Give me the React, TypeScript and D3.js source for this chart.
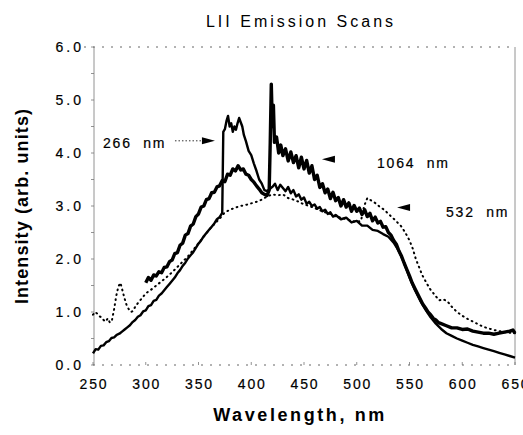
import React from "react";
import * as d3 from "d3";

const W = 523;
const H = 435;

const title = "LII Emission Scans";
const xLabel = "Wavelength, nm";
const yLabel = "Intensity (arb. units)";
const xTicks = [250, 300, 350, 400, 450, 500, 550, 600, 650];
const yTicks = [0, 1, 2, 3, 4, 5, 6];

// 266 nm excitation (solid)
const s266: [number, number][] = [
  [250,0.22],[252.5,0.3],[255,0.29],[257.5,0.36],[260,0.37],[262.5,0.43],[265,0.45],[267.5,0.51],[270,0.52],[272.5,0.57],[275,0.59],[277.5,0.63],[280,0.67],[282.5,0.71],[285,0.75],[287.5,0.81],[290,0.85],[292.5,0.91],[295,0.94],[297.5,1.01],[300,1.03],[302.5,1.11],[305,1.13],[307.5,1.21],[310,1.23],[312.5,1.31],[315,1.35],[317.5,1.41],[320,1.47],[322.5,1.53],[325,1.59],[327.5,1.65],[330,1.73],[332.5,1.79],[335,1.87],[337.5,1.93],[340,2.01],[342.5,2.07],[345,2.13],[347.5,2.21],[350,2.29],[352.5,2.35],[355,2.43],[357.5,2.49],[360,2.55],[362.5,2.61],[365,2.67],[367.5,2.75],[370,2.79],[372.5,2.87],[373.5,4.4],[375,4.45],[376.5,4.6],[378,4.7],[379.5,4.5],[381,4.56],[382.5,4.4],[384,4.5],[385.5,4.44],[387,4.56],[388.5,4.66],[390,4.58],[391.5,4.5],[393,4.34],[395,4.22],[397.5,4.04],[400,3.96],[402.5,3.8],[405,3.66],[407.5,3.5],[410,3.42],[412.5,3.3],[415,3.28],[417.5,3.32],[420,3.36],[422.5,3.42],[425,3.3],[427.5,3.4],[430,3.34],[432.5,3.28],[435,3.36],[437.5,3.24],[440,3.3],[442.5,3.18],[445,3.22],[447.5,3.12],[450,3.16],[452.5,3.04],[455,3.08],[457.5,3.0],[460,3.03],[462.5,2.95],[465,2.98],[467.5,2.9],[470,2.93],[472.5,2.85],[475,2.88],[477.5,2.8],[480,2.83],[485,2.75],[490,2.78],[495,2.69],[500,2.72],[505,2.63],[510,2.63],[515,2.55],[520,2.53],[525,2.47],[530,2.42],[535,2.31],[540,2.15],[545,1.92],[550,1.65],[555,1.42],[560,1.22],[565,1.05],[570,0.9],[575,0.78],[580,0.68],[585,0.6],[590,0.55],[595,0.5],[600,0.46],[605,0.42],[610,0.38],[615,0.35],[620,0.32],[625,0.29],[630,0.26],[635,0.23],[640,0.2],[645,0.17],[650,0.14]
];

// 1064 nm excitation (heavy solid)
const s1064: [number, number][] = [
  [300,1.55],[302.5,1.65],[305,1.6],[307.5,1.7],[310,1.68],[312.5,1.76],[315,1.74],[317.5,1.84],[320,1.85],[322.5,1.95],[325,1.98],[327.5,2.1],[330,2.12],[332.5,2.26],[335,2.3],[337.5,2.45],[340,2.48],[342.5,2.62],[345,2.66],[347.5,2.8],[350,2.85],[352.5,2.98],[355,3.0],[357.5,3.12],[360,3.14],[362.5,3.25],[365,3.26],[367.5,3.36],[370,3.38],[372.5,3.48],[375,3.46],[377.5,3.6],[380,3.58],[382.5,3.7],[385,3.66],[387.5,3.76],[390,3.68],[392.5,3.7],[395,3.6],[397.5,3.58],[400,3.5],[402.5,3.45],[405,3.38],[407.5,3.32],[410,3.25],[412.5,3.22],[415,3.2],[417,3.3],[418,4.2],[419,5.3],[420,4.5],[421,4.9],[422,4.2],[424,4.3],[426,4.0],[428,4.15],[430,3.95],[432.5,4.08],[435,3.85],[437.5,4.02],[440,3.82],[442.5,3.95],[445,3.72],[447.5,3.92],[450,3.7],[452.5,3.86],[455,3.62],[457.5,3.76],[460,3.5],[462.5,3.58],[465,3.35],[467.5,3.42],[470,3.25],[472.5,3.32],[475,3.14],[477.5,3.26],[480,3.1],[482.5,3.16],[485,3.0],[487.5,3.12],[490,2.98],[492.5,3.06],[495,2.9],[497.5,3.01],[500,2.9],[502.5,2.96],[505,2.84],[507.5,2.93],[510,2.8],[512.5,2.86],[515,2.72],[517.5,2.79],[520,2.68],[522.5,2.71],[525,2.6],[527.5,2.61],[530,2.5],[532.5,2.45],[535,2.35],[537.5,2.28],[540,2.15],[542.5,2.05],[545,1.92],[547.5,1.8],[550,1.68],[552.5,1.55],[555,1.45],[557.5,1.35],[560,1.25],[562.5,1.15],[565,1.08],[567.5,1.0],[570,0.95],[572.5,0.88],[575,0.85],[577.5,0.8],[580,0.78],[585,0.74],[590,0.7],[595,0.7],[600,0.67],[605,0.68],[610,0.64],[615,0.62],[620,0.6],[625,0.6],[630,0.58],[635,0.6],[640,0.62],[645,0.64],[648,0.66],[650,0.6]
];

// 532 nm excitation (dotted)
const s532: [number, number][] = [
  [250,0.95],[252,1.0],[254,0.97],[256,0.92],[258,0.9],[260,0.85],[262,0.82],[264,0.88],[266,0.8],[268,0.85],[270,1.05],[272,1.3],[274,1.48],[276,1.55],[278,1.4],[280,1.25],[282,1.12],[284,1.05],[286,1.0],[288,1.02],[290,1.1],[293,1.18],[296,1.25],[300,1.35],[305,1.42],[310,1.5],[315,1.58],[320,1.66],[325,1.75],[330,1.85],[335,1.95],[340,2.05],[345,2.17],[350,2.3],[355,2.42],[360,2.55],[365,2.66],[370,2.76],[375,2.88],[380,2.93],[385,2.97],[390,3.0],[395,3.02],[400,3.05],[405,3.08],[410,3.12],[415,3.18],[420,3.22],[425,3.2],[430,3.22],[435,3.15],[440,3.12],[445,3.08],[450,3.03],[455,3.0],[460,2.96],[465,2.92],[470,2.88],[475,2.85],[480,2.8],[485,2.78],[490,2.75],[495,2.72],[500,2.7],[504,2.72],[507,3.0],[510,3.15],[514,3.1],[518,3.05],[522,2.98],[526,2.93],[530,2.85],[534,2.78],[538,2.7],[542,2.62],[546,2.5],[550,2.35],[553,2.2],[556,2.0],[559,1.85],[562,1.7],[566,1.55],[570,1.42],[574,1.32],[578,1.22],[582,1.24],[586,1.2],[590,1.1],[595,1.0],[600,0.93],[605,0.87],[610,0.82],[615,0.77],[620,0.72],[625,0.69],[630,0.66],[635,0.64],[640,0.62],[645,0.61],[650,0.6]
];

const annLabels = ["266  nm", "1064  nm", "532  nm"];
const annTextAt: [number, number][] = [[259.5, 4.09], [519.2, 3.72], [584.6, 2.79]];
const annTipAt: [number, number][] = [[365.6, 4.23], [467, 3.88], [538.2, 2.97]];
const annDir = [1, -1, -1];
const annTailFrom = [327.7, null, null];

const FONT = "'Liberation Sans', Arial, Helvetica, sans-serif";

export default function App() {
  const x = d3.scaleLinear().domain([250, 650]).range([93, 515]);
  const y = d3.scaleLinear().domain([0, 6]).range([365, 47]);
  const line = d3
    .line<[number, number]>()
    .x((d) => x(d[0]))
    .y((d) => y(d[1]));

  const minorY = d3.range(0, 6.01, 0.5);

  return (
    <svg
      width={W}
      height={H}
      style={{ position: "absolute", left: 0, top: 0, background: "#fff" }}
      fontFamily={FONT}
    >
      <rect x={0} y={0} width={W} height={H} fill="#fff" />
      {/* title */}
      <text x={301} y={27} textAnchor="middle" fontSize={16} letterSpacing={3} fill="#000">
        {title}
      </text>

      {/* frame */}
      <line x1={84} x2={x(650)} y1={y(6)} y2={y(6)} stroke="#666" strokeWidth={1} strokeDasharray="2,7" />
      <line x1={x(250)} x2={x(650)} y1={y(0)} y2={y(0)} stroke="#666" strokeWidth={1} strokeDasharray="2,7" />
      <line x1={x(250) + 1} x2={x(250) + 1} y1={y(6)} y2={y(0)} stroke="#777" strokeWidth={0.8} />
      <line x1={x(650)} x2={x(650)} y1={y(6)} y2={y(0)} stroke="#777" strokeWidth={0.8} />
      {minorY.map((v) => (
        <line key={"my" + v} x1={x(250) + 1} x2={x(250) - 2} y1={y(v)} y2={y(v)} stroke="#777" strokeWidth={0.8} />
      ))}
      {xTicks.map((t) => (
        <line key={"xt" + t} x1={x(t)} x2={x(t)} y1={y(0)} y2={y(0) - 3} stroke="#777" strokeWidth={0.8} />
      ))}

      {/* y tick labels */}
      {yTicks.map((t) => (
        <text key={"yl" + t} x={84} y={y(t) + 5} textAnchor="end" fontSize={14} letterSpacing={3} fill="#000" stroke="#000" strokeWidth={0.2}>
          {t.toFixed(1)}
        </text>
      ))}
      {/* x tick labels */}
      {xTicks.map((t) => (
        <text key={"xl" + t} x={x(t) + 1} y={y(0) + 24} textAnchor="middle" fontSize={14} letterSpacing={1.8} fill="#000" stroke="#000" strokeWidth={0.2}>
          {t}
        </text>
      ))}

      {/* axis titles */}
      <text x={300} y={421} textAnchor="middle" fontSize={18} fontWeight="bold" letterSpacing={2.6} fill="#000">
        {xLabel}
      </text>
      <text
        transform={`translate(28,206) rotate(-90)`}
        textAnchor="middle"
        fontSize={18}
        fontWeight="bold"
        letterSpacing={1.1}
        fill="#000"
      >
        {yLabel}
      </text>

      {/* series */}
      <path d={line(s532) || ""} fill="none" stroke="#000" strokeWidth={2} strokeDasharray="0.8,4.2" strokeLinecap="round" />
      <path d={line(s266) || ""} fill="none" stroke="#000" strokeWidth={2.4} strokeLinejoin="round" />
      <path d={line(s1064) || ""} fill="none" stroke="#000" strokeWidth={3.4} strokeLinejoin="round" />

      {/* annotations */}
      {annLabels.map((lab, i) => {
        const tx = x(annTipAt[i][0]);
        const ty = y(annTipAt[i][1]);
        const dir = annDir[i];
        const len = 13;
        const hh = 3.5;
        const pts = `${tx},${ty} ${tx - dir * len},${ty - hh} ${tx - dir * len},${ty + hh}`;
        const tail = annTailFrom[i];
        return (
          <g key={"ann" + i}>
            <text
              x={x(annTextAt[i][0])}
              y={y(annTextAt[i][1])}
              fontSize={14}
              letterSpacing={1.8}
              fill="#000"
              stroke="#000"
              strokeWidth={0.2}
              style={{ whiteSpace: "pre" }}
            >
              {lab}
            </text>
            {tail !== null && (
              <line x1={x(tail)} x2={tx - dir * len} y1={ty} y2={ty} stroke="#333" strokeWidth={1} strokeDasharray="1.5,2" />
            )}
            <polygon points={pts} fill="#000" />
          </g>
        );
      })}
    </svg>
  );
}
